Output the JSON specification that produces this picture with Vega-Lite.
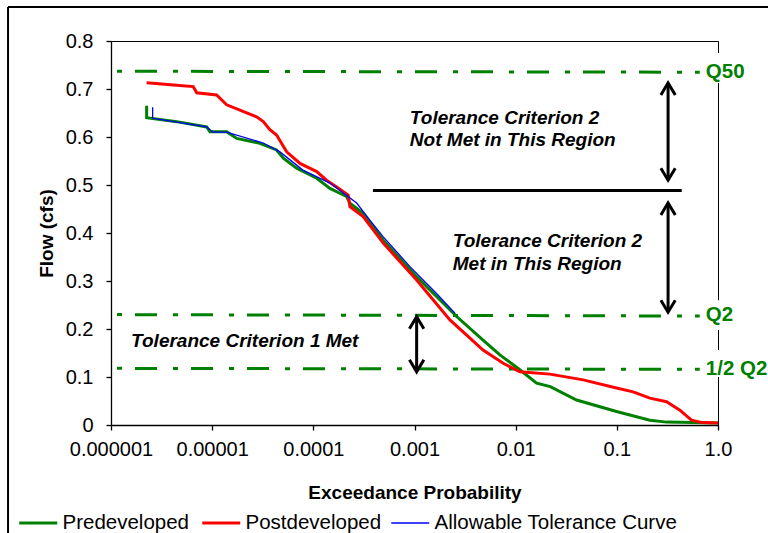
{
  "$schema": "https://vega.github.io/schema/vega-lite/v6.json",
  "width": 607,
  "height": 384,
  "autosize": {"type": "none"},
  "padding": {"left": 111, "top": 41, "right": 50, "bottom": 108},
  "background": "#ffffff",
  "datasets": {
    "curves": [
      {"series": "Predeveloped", "x": 2.25e-6, "y": 0.665},
      {"series": "Predeveloped", "x": 2.25e-6, "y": 0.640},
      {"series": "Predeveloped", "x": 4.46e-6, "y": 0.632},
      {"series": "Predeveloped", "x": 8.83e-6, "y": 0.621},
      {"series": "Predeveloped", "x": 9.5e-6, "y": 0.611},
      {"series": "Predeveloped", "x": 1.39e-5, "y": 0.611},
      {"series": "Predeveloped", "x": 1.75e-5, "y": 0.597},
      {"series": "Predeveloped", "x": 2.96e-5, "y": 0.587},
      {"series": "Predeveloped", "x": 4.33e-5, "y": 0.573},
      {"series": "Predeveloped", "x": 5.05e-5, "y": 0.556},
      {"series": "Predeveloped", "x": 6.84e-5, "y": 0.535},
      {"series": "Predeveloped", "x": 1.08e-4, "y": 0.514},
      {"series": "Predeveloped", "x": 1.46e-4, "y": 0.493},
      {"series": "Predeveloped", "x": 2.13e-4, "y": 0.476},
      {"series": "Predeveloped", "x": 2.3e-4, "y": 0.462},
      {"series": "Predeveloped", "x": 3.11e-4, "y": 0.441},
      {"series": "Predeveloped", "x": 4.91e-4, "y": 0.385},
      {"series": "Predeveloped", "x": 1.05e-3, "y": 0.309},
      {"series": "Predeveloped", "x": 2.61e-3, "y": 0.226},
      {"series": "Predeveloped", "x": 4.76e-3, "y": 0.177},
      {"series": "Predeveloped", "x": 6.98e-3, "y": 0.146},
      {"series": "Predeveloped", "x": 0.011, "y": 0.115},
      {"series": "Predeveloped", "x": 0.0161, "y": 0.087},
      {"series": "Predeveloped", "x": 0.022, "y": 0.080},
      {"series": "Predeveloped", "x": 0.040, "y": 0.052},
      {"series": "Predeveloped", "x": 0.0993, "y": 0.028},
      {"series": "Predeveloped", "x": 0.212, "y": 0.010},
      {"series": "Predeveloped", "x": 0.31, "y": 0.006},
      {"series": "Predeveloped", "x": 1.0, "y": 0.004},
      {"series": "Postdeveloped", "x": 2.25e-6, "y": 0.713},
      {"series": "Postdeveloped", "x": 4.46e-6, "y": 0.708},
      {"series": "Postdeveloped", "x": 6.5e-6, "y": 0.705},
      {"series": "Postdeveloped", "x": 7.03e-6, "y": 0.692},
      {"series": "Postdeveloped", "x": 1.107e-5, "y": 0.6875},
      {"series": "Postdeveloped", "x": 1.39e-5, "y": 0.667},
      {"series": "Postdeveloped", "x": 1.88e-5, "y": 0.656},
      {"series": "Postdeveloped", "x": 2.75e-5, "y": 0.642},
      {"series": "Postdeveloped", "x": 3.2e-5, "y": 0.632},
      {"series": "Postdeveloped", "x": 3.72e-5, "y": 0.615},
      {"series": "Postdeveloped", "x": 4.33e-5, "y": 0.604},
      {"series": "Postdeveloped", "x": 5.45e-5, "y": 0.569},
      {"series": "Postdeveloped", "x": 7.38e-5, "y": 0.545},
      {"series": "Postdeveloped", "x": 1.08e-4, "y": 0.528},
      {"series": "Postdeveloped", "x": 1.35e-4, "y": 0.510},
      {"series": "Postdeveloped", "x": 1.70e-4, "y": 0.496},
      {"series": "Postdeveloped", "x": 2.21e-4, "y": 0.479},
      {"series": "Postdeveloped", "x": 2.30e-4, "y": 0.455},
      {"series": "Postdeveloped", "x": 3.11e-4, "y": 0.434},
      {"series": "Postdeveloped", "x": 4.91e-4, "y": 0.379},
      {"series": "Postdeveloped", "x": 1.05e-3, "y": 0.302},
      {"series": "Postdeveloped", "x": 2.24e-3, "y": 0.219},
      {"series": "Postdeveloped", "x": 4.76e-3, "y": 0.156},
      {"series": "Postdeveloped", "x": 7.52e-3, "y": 0.1285},
      {"series": "Postdeveloped", "x": 0.011, "y": 0.111},
      {"series": "Postdeveloped", "x": 0.0218, "y": 0.106},
      {"series": "Postdeveloped", "x": 0.0465, "y": 0.094},
      {"series": "Postdeveloped", "x": 0.0993, "y": 0.077},
      {"series": "Postdeveloped", "x": 0.145, "y": 0.069},
      {"series": "Postdeveloped", "x": 0.212, "y": 0.056},
      {"series": "Postdeveloped", "x": 0.31, "y": 0.0485},
      {"series": "Postdeveloped", "x": 0.42, "y": 0.031},
      {"series": "Postdeveloped", "x": 0.547, "y": 0.010},
      {"series": "Postdeveloped", "x": 0.7, "y": 0.005},
      {"series": "Postdeveloped", "x": 1.0, "y": 0.004},
      {"series": "Allowable Tolerance Curve", "x": 2.58e-6, "y": 0.662},
      {"series": "Allowable Tolerance Curve", "x": 2.58e-6, "y": 0.639},
      {"series": "Allowable Tolerance Curve", "x": 8.83e-6, "y": 0.621},
      {"series": "Allowable Tolerance Curve", "x": 1.02e-5, "y": 0.610},
      {"series": "Allowable Tolerance Curve", "x": 1.39e-5, "y": 0.610},
      {"series": "Allowable Tolerance Curve", "x": 3.2e-5, "y": 0.5875},
      {"series": "Allowable Tolerance Curve", "x": 4.68e-5, "y": 0.569},
      {"series": "Allowable Tolerance Curve", "x": 7.89e-5, "y": 0.531},
      {"series": "Allowable Tolerance Curve", "x": 1.46e-4, "y": 0.504},
      {"series": "Allowable Tolerance Curve", "x": 2.68e-4, "y": 0.4625},
      {"series": "Allowable Tolerance Curve", "x": 3.62e-4, "y": 0.427},
      {"series": "Allowable Tolerance Curve", "x": 4.91e-4, "y": 0.392},
      {"series": "Allowable Tolerance Curve", "x": 9.02e-4, "y": 0.330},
      {"series": "Allowable Tolerance Curve", "x": 1.65e-3, "y": 0.274},
      {"series": "Allowable Tolerance Curve", "x": 2.51e-3, "y": 0.233}
    ],
    "levels": [
      {"name": "Q50", "x": 1.146e-6, "y": 0.737},
      {"name": "Q50", "x": 0.66, "y": 0.735},
      {"name": "Q2", "x": 1.146e-6, "y": 0.230},
      {"name": "Q2", "x": 0.66, "y": 0.227},
      {"name": "Half Q2", "x": 1.146e-6, "y": 0.118},
      {"name": "Half Q2", "x": 0.66, "y": 0.116}
    ],
    "levelLabels": [
      {"text": "Q50", "x": 0.758, "y": 0.736, "bx": 0.692, "bx2": 4, "by": 0.775, "by2": 0.7125},
      {"text": "Q2", "x": 0.758, "y": 0.2285, "bx": 0.692, "bx2": 4, "by": 0.26, "by2": 0.198},
      {"text": "1/2 Q2", "x": 0.758, "y": 0.117, "bx": 0.692, "bx2": 4, "by": 0.156, "by2": 0.10}
    ],
    "border": [
      {"x": 9.6e-8, "x2": 4.1, "y": 0.871, "y2": 0.871},
      {"x": 9.6e-8, "x2": 9.6e-8, "y": 0.871, "y2": -0.3}
    ],
    "divider": [
      {"x": 3.88e-4, "x2": 0.438, "y": 0.4885}
    ],
    "arrows": [
      {"x": 0.321, "y": 0.7125, "y2": 0.51},
      {"x": 0.321, "y": 0.4625, "y2": 0.235},
      {"x": 1.05e-3, "y": 0.2256, "y2": 0.111}
    ],
    "notes": [
      {"text": "Tolerance Criterion 2", "x": 9.0e-4, "y": 0.627},
      {"text": "Not Met in This Region", "x": 9.0e-4, "y": 0.581},
      {"text": "Tolerance Criterion 2", "x": 2.39e-3, "y": 0.371},
      {"text": "Met in This Region", "x": 2.39e-3, "y": 0.323},
      {"text": "Tolerance Criterion 1 Met", "x": 1.58e-6, "y": 0.1625}
    ]
  },
  "encoding": {
    "x": {
      "field": "x", "type": "quantitative",
      "scale": {"type": "log", "domain": [0.000001, 1], "nice": false},
      "axis": {
        "title": "Exceedance Probability",
        "values": [0.000001, 0.00001, 0.0001, 0.001, 0.01, 0.1, 1],
        "labelExpr": "datum.value >= 1 ? '1.0' : format(datum.value, '.6~f')",
        "labelPadding": 9,
        "labelFlush": false,
        "labelOverlap": false,
        "titleY": 73,
        "titleBaseline": "alphabetic"
      }
    },
    "y": {
      "field": "y", "type": "quantitative",
      "scale": {"domain": [0, 0.8], "nice": false, "zero": false},
      "axis": {
        "title": "Flow (cfs)",
        "values": [0, 0.1, 0.2, 0.3, 0.4, 0.5, 0.6, 0.7, 0.8],
        "format": ".1~f",
        "labelPadding": 13,
        "labelFlush": false,
        "labelOverlap": false,
        "titleX": -59,
        "titleY": 192,
        "titleAngle": 270,
        "titleAlign": "center",
        "titleBaseline": "alphabetic"
      }
    }
  },
  "layer": [
    {
      "data": {"name": "border"},
      "mark": {"type": "rule", "color": "#000000", "strokeWidth": 2, "clip": false},
      "encoding": {
        "x2": {"field": "x2"},
        "y2": {"field": "y2"}
      }
    },
    {
      "data": {"name": "levels"},
      "mark": {"type": "line", "color": "#008000", "strokeWidth": 3, "strokeDash": [5, 13, 22, 16], "clip": false},
      "encoding": {
        "detail": {"field": "name"}
      }
    },
    {
      "data": {"name": "curves"},
      "transform": [{"filter": "datum.series === 'Predeveloped'"}],
      "mark": {"type": "line", "strokeWidth": 3},
      "encoding": {
        "color": {
          "field": "series", "type": "nominal",
          "scale": {"domain": ["Predeveloped", "Postdeveloped", "Allowable Tolerance Curve"], "range": ["#008000", "#FF0000", "#0000FF"]},
          "legend": {
            "title": null,
            "orient": "none",
            "legendX": -83,
            "legendY": 471.7,
            "direction": "horizontal",
            "symbolType": "stroke",
            "symbolSize": 1444,
            "symbolStrokeWidth": 3,
            "labelFontSize": 20.5,
            "labelColor": "#000000",
            "labelOffset": 14,
            "labelLimit": 400,
            "columnPadding": 6,
            "padding": 0,
            "encode": {
              "symbols": {"update": {"strokeWidth": {"signal": "datum.value === 'Allowable Tolerance Curve' ? 1.5 : 3"}}}
            }
          }
        },
        "order": [{"field": "x", "type": "quantitative"}, {"field": "y", "type": "quantitative", "sort": "descending"}]
      }
    },
    {
      "data": {"name": "curves"},
      "transform": [{"filter": "datum.series === 'Postdeveloped'"}],
      "mark": {"type": "line", "strokeWidth": 3},
      "encoding": {
        "color": {"field": "series", "type": "nominal"},
        "order": [{"field": "x", "type": "quantitative"}, {"field": "y", "type": "quantitative", "sort": "descending"}]
      }
    },
    {
      "data": {"name": "curves"},
      "transform": [{"filter": "datum.series === 'Allowable Tolerance Curve'"}],
      "mark": {"type": "line", "strokeWidth": 1.3},
      "encoding": {
        "color": {"field": "series", "type": "nominal"},
        "order": [{"field": "x", "type": "quantitative"}, {"field": "y", "type": "quantitative", "sort": "descending"}]
      }
    },
    {
      "data": {"name": "divider"},
      "mark": {"type": "rule", "color": "#000000", "strokeWidth": 3},
      "encoding": {"x2": {"field": "x2"}}
    },
    {
      "data": {"name": "arrows"},
      "mark": {"type": "rule", "color": "#000000", "strokeWidth": 3},
      "encoding": {"y2": {"field": "y2"}}
    },
    {
      "data": {"name": "arrows"},
      "mark": {"type": "point", "shape": "M-0.6,1L0,0L0.6,1", "filled": false, "stroke": "#000000", "strokeWidth": 3, "size": 576, "opacity": 1},
      "encoding": {}
    },
    {
      "data": {"name": "arrows"},
      "mark": {"type": "point", "shape": "M-0.6,-1L0,0L0.6,-1", "filled": false, "stroke": "#000000", "strokeWidth": 3, "size": 576, "opacity": 1},
      "encoding": {"y": {"field": "y2", "type": "quantitative"}}
    },
    {
      "data": {"name": "levelLabels"},
      "mark": {"type": "rect", "color": "#ffffff", "clip": false},
      "encoding": {
        "x": {"field": "bx", "type": "quantitative"},
        "x2": {"field": "bx2"},
        "y": {"field": "by", "type": "quantitative"},
        "y2": {"field": "by2"}
      }
    },
    {
      "data": {"name": "levelLabels"},
      "mark": {"type": "text", "align": "left", "baseline": "middle", "fontSize": 20.5, "fontWeight": "bold", "color": "#008000", "clip": false},
      "encoding": {"text": {"field": "text"}}
    },
    {
      "data": {"name": "notes"},
      "mark": {"type": "text", "align": "left", "baseline": "alphabetic", "fontSize": 19, "fontWeight": "bold", "fontStyle": "italic", "color": "#000000"},
      "encoding": {"text": {"field": "text"}}
    }
  ],
  "config": {
    "font": "Liberation Sans",
    "view": {"stroke": "#000000", "strokeWidth": 1},
    "axis": {
      "grid": false,
      "domainColor": "#000000",
      "domainWidth": 1.3,
      "tickColor": "#000000",
      "tickWidth": 1.3,
      "tickSize": 5,
      "labelColor": "#000000",
      "labelFontSize": 20,
      "labelFont": "Liberation Sans",
      "titleColor": "#000000",
      "titleFontSize": 19,
      "titleFont": "Liberation Sans",
      "titleFontWeight": "bold"
    },
    "legend": {"labelFont": "Liberation Sans"}
  }
}
